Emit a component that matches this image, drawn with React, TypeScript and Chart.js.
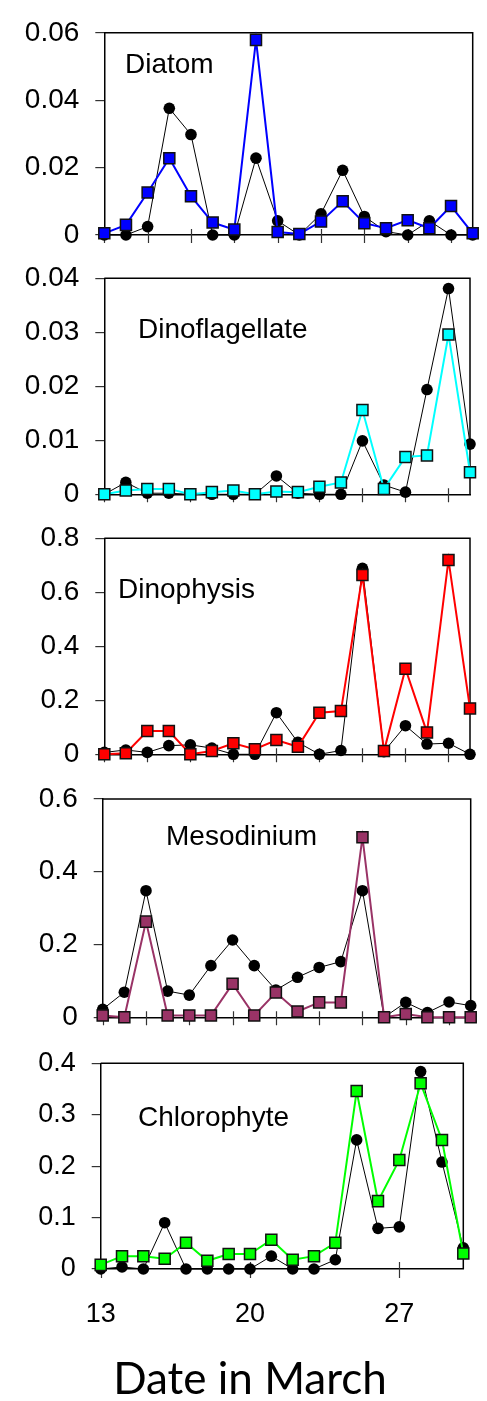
import React, { useEffect, useRef } from "react";
import { Chart, registerables } from "chart.js";
Chart.register(...registerables);

// ---------- data ----------
const days = [13, 14, 15, 16, 17, 18, 19, 20, 21, 22, 23, 24, 25, 26, 27, 28, 29, 30];

const diatomBlack = [0, 0, 0.0025, 0.0376, 0.0298, 0, 0, 0.0228, 0.0042, 0, 0.0063, 0.0192, 0.0055, 0.001, 0, 0.0042, 0, 0];
const diatomBlue = [0.0005, 0.003, 0.0126, 0.0228, 0.0115, 0.0037, 0.0016, 0.0579, 0.0009, 0.0003, 0.004, 0.01, 0.0035, 0.002, 0.0044, 0.002, 0.0086, 0.0005];

const dinoflagBlack = [0, 0.0022, 0.0002, 0.0002, 0, 0, 0, 0, 0.0034, 0.0002, 0, 0, 0.0099, 0.0017, 0.0004, 0.0194, 0.0381, 0.0093];
const dinoflagCyan = [0, 0.0007, 0.001, 0.001, 0, 0.0004, 0.0007, 0, 0.0005, 0.0004, 0.0014, 0.0022, 0.0156, 0.001, 0.0069, 0.0072, 0.0296, 0.0041];

const dinophysisBlack = [0.007, 0.016, 0.007, 0.032, 0.035, 0.023, 0, 0, 0.154, 0.044, 0, 0.014, 0.689, 0.01, 0.106, 0.038, 0.041, 0];
const dinophysisRed = [0, 0.004, 0.086, 0.086, 0, 0.012, 0.041, 0.019, 0.053, 0.028, 0.154, 0.16, 0.664, 0.012, 0.317, 0.081, 0.72, 0.17];

const mesodiniumBlack = [0.022, 0.069, 0.348, 0.072, 0.061, 0.142, 0.2125, 0.142, 0.075, 0.11, 0.137, 0.153, 0.348, 0, 0.041, 0.013, 0.042, 0.032];
const mesodiniumPurple = [0.005, 0, 0.263, 0.005, 0.005, 0.005, 0.092, 0.005, 0.068, 0.016, 0.041, 0.041, 0.495, 0, 0.009, 0, 0, 0];

const chlorophyteBlack = [0, 0.004, 0, 0.09, 0, 0, 0, 0, 0.025, 0, 0, 0.018, 0.251, 0.079, 0.082, 0.384, 0.208, 0.041];
const chlorophyteGreen = [0.008, 0.025, 0.025, 0.02, 0.051, 0.016, 0.029, 0.029, 0.057, 0.018, 0.025, 0.051, 0.346, 0.132, 0.212, 0.361, 0.251, 0.03];

const yTicksDiatom = [0, 0.02, 0.04, 0.06];
const yTicksDinoflag = [0, 0.01, 0.02, 0.03, 0.04];
const yTicksDinophysis = [0, 0.2, 0.4, 0.6, 0.8];
const yTicksMesodinium = [0, 0.2, 0.4, 0.6];
const yTicksChlorophyte = [0, 0.1, 0.2, 0.3, 0.4];

const xTicksUpper = [13, 15, 17, 19, 21, 23, 25, 27, 29];
const xTicksBottom = [13, 20, 27];

const panelNames = ["Diatom", "Dinoflagellate", "Dinophysis", "Mesodinium", "Chlorophyte"];
const xAxisTitle = "Date in March";

// ---------- layout / style ----------
const W = 487;
const H = 1401;
const Y_AXIS_W = 90;
const TICK_FONT = '"Liberation Sans", Arial, sans-serif';

type PanelCfg = {
  name: string;
  black: number[];
  colored: number[];
  color: string;
  yTicks: number[];
  xTicks: number[];
  showXLabels: boolean;
  box: { l: number; r: number; t: number; b: number };
  label: { x: number; y: number };
  tickSize: number;
  xAxisH: number;
  tickUp: number;
  tickDown: number;
};

const panels: PanelCfg[] = [
  {
    name: panelNames[0], black: diatomBlack, colored: diatomBlue, color: "#0000FF",
    yTicks: yTicksDiatom, xTicks: xTicksUpper, showXLabels: false,
    box: { l: 104.3, r: 472.7, t: 18.3, b: 235 }, label: { x: 125, y: 73 },
    tickSize: 28, xAxisH: 10, tickUp: 6, tickDown: 8,
  },
  {
    name: panelNames[1], black: dinoflagBlack, colored: dinoflagCyan, color: "#00FFFF",
    yTicks: yTicksDinoflag, xTicks: xTicksUpper, showXLabels: false,
    box: { l: 104.3, r: 470, t: 278.3, b: 494.3 }, label: { x: 138, y: 338 },
    tickSize: 28, xAxisH: 10, tickUp: 6, tickDown: 8,
  },
  {
    name: panelNames[2], black: dinophysisBlack, colored: dinophysisRed, color: "#FF0000",
    yTicks: yTicksDinophysis, xTicks: xTicksUpper, showXLabels: false,
    box: { l: 104.3, r: 470, t: 538.3, b: 754.3 }, label: { x: 118, y: 598 },
    tickSize: 28, xAxisH: 10, tickUp: 6, tickDown: 8,
  },
  {
    name: panelNames[3], black: mesodiniumBlack, colored: mesodiniumPurple, color: "#993366",
    yTicks: yTicksMesodinium, xTicks: xTicksUpper, showXLabels: false,
    box: { l: 102.7, r: 470.7, t: 799, b: 1017.3 }, label: { x: 166, y: 845 },
    tickSize: 28, xAxisH: 10, tickUp: 6, tickDown: 8,
  },
  {
    name: panelNames[4], black: chlorophyteBlack, colored: chlorophyteGreen, color: "#00FF00",
    yTicks: yTicksChlorophyte, xTicks: xTicksBottom, showXLabels: true,
    box: { l: 100.7, r: 463.3, t: 1063.3, b: 1269 }, label: { x: 138, y: 1126 },
    tickSize: 27, xAxisH: 70, tickUp: 7, tickDown: 9,
  },
];

function makeChart(canvas: HTMLCanvasElement, p: PanelCfg, isLast: boolean) {
  const decor = {
    id: "decor",
    beforeDatasetsDraw(chart: any) {
      const { ctx, chartArea } = chart;
      const { left, right, top, bottom } = chartArea;
      ctx.save();
      ctx.strokeStyle = "#000";
      ctx.lineWidth = 1.5;
      ctx.beginPath();
      ctx.moveTo(left, top);
      ctx.lineTo(right, top);
      ctx.lineTo(right, bottom);
      ctx.stroke();
      const xs = chart.scales.x;
      ctx.strokeStyle = "#333";
      ctx.lineWidth = 1.2;
      ctx.beginPath();
      for (const d of p.xTicks) {
        const px = Math.round(xs.getPixelForValue(d)) + 0.5;
        ctx.moveTo(px, bottom - p.tickUp);
        ctx.lineTo(px, bottom + p.tickDown);
      }
      ctx.stroke();
      ctx.restore();
    },
    afterDraw(chart: any) {
      const { ctx } = chart;
      ctx.save();
      ctx.fillStyle = "#000";
      ctx.textBaseline = "alphabetic";
      ctx.textAlign = "left";
      ctx.font = `28px ${TICK_FONT}`;
      ctx.fillText(p.name, p.label.x, p.label.y);
      if (isLast) {
        ctx.textAlign = "center";
        ctx.font = '44px Lato, "Open Sans", sans-serif';
        ctx.fillText(xAxisTitle, 250, 1394);
      }
      ctx.restore();
    },
  };

  const yMax = p.yTicks[p.yTicks.length - 1];
  return new Chart(canvas, {
    type: "line",
    data: {
      datasets: [
        {
          data: days.map((d, i) => ({ x: d, y: p.colored[i] })),
          borderColor: p.color,
          backgroundColor: p.color,
          borderWidth: 2,
          pointStyle: "rect",
          pointRadius: 7.8,
          pointBackgroundColor: p.color,
          pointBorderColor: "#111",
          pointBorderWidth: 1.5,
          tension: 0,
          clip: false as any,
        },
        {
          data: days.map((d, i) => ({ x: d, y: p.black[i] })),
          borderColor: "#000",
          backgroundColor: "#000",
          borderWidth: 1,
          pointStyle: "circle",
          pointRadius: 5.8,
          pointBackgroundColor: "#000",
          pointBorderColor: "#000",
          pointBorderWidth: 0,
          tension: 0,
          clip: false as any,
        },
      ],
    },
    options: {
      responsive: false,
      animation: false,
      devicePixelRatio: 1,
      events: [],
      layout: {
        padding: {
          left: p.box.l - Y_AXIS_W,
          right: W - p.box.r,
          top: p.box.t,
          bottom: H - p.box.b - p.xAxisH,
        },
      },
      plugins: { legend: { display: false }, tooltip: { enabled: false }, title: { display: false } },
      scales: {
        x: {
          type: "linear",
          min: days[0],
          max: days[days.length - 1],
          afterBuildTicks: (s: any) => {
            s.ticks = p.xTicks.map((v) => ({ value: v }));
          },
          afterFit: (s: any) => {
            s.height = p.xAxisH;
          },
          grid: { display: true, drawOnChartArea: false, drawTicks: false, color: "#333" },
          border: { display: true, color: "#000", width: 1.5 },
          ticks: {
            display: p.showXLabels,
            autoSkip: false,
            maxRotation: 0,
            padding: 29,
            color: "#000",
            font: { family: TICK_FONT, size: p.tickSize },
            callback: (v: any) => String(v),
          },
        },
        y: {
          type: "linear",
          min: 0,
          max: yMax,
          afterBuildTicks: (s: any) => {
            s.ticks = p.yTicks.map((v) => ({ value: v }));
          },
          afterFit: (s: any) => {
            s.width = Y_AXIS_W;
          },
          grid: { display: true, drawOnChartArea: false, drawTicks: true, tickLength: 9, color: "#333", lineWidth: 1.2 },
          border: { display: true, color: "#000", width: 1.5 },
          ticks: {
            padding: 16,
            color: "#000",
            font: { family: TICK_FONT, size: p.tickSize },
            callback: (v: any) => String(v),
          },
        },
      },
    } as any,
    plugins: [decor],
  });
}

function Panel({ p, isLast }: { p: PanelCfg; isLast: boolean }) {
  const ref = useRef<HTMLCanvasElement | null>(null);
  useEffect(() => {
    if (!ref.current) return;
    const chart = makeChart(ref.current, p, isLast);
    return () => chart.destroy();
  }, [p, isLast]);
  return (
    <canvas
      ref={ref}
      width={W}
      height={H}
      style={{ position: "absolute", left: 0, top: 0, width: W, height: H }}
    />
  );
}

export default function App() {
  return (
    <div style={{ position: "absolute", left: 0, top: 0, width: W, height: H, background: "#fff" }}>
      {panels.map((p, i) => (
        <Panel key={p.name} p={p} isLast={i === panels.length - 1} />
      ))}
    </div>
  );
}
